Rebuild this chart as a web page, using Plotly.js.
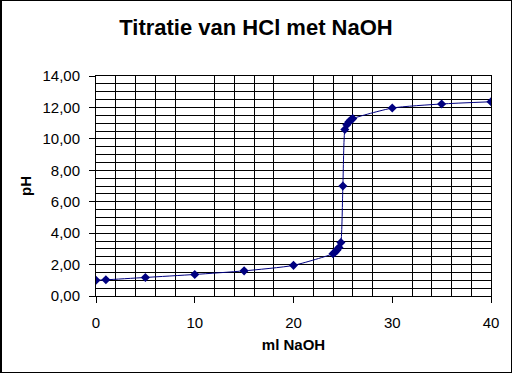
<!DOCTYPE html>
<html>
<head>
<meta charset="utf-8">
<script src="https://cdn.plot.ly/plotly-3.0.1.min.js"></script>
<style>
  html, body { margin: 0; padding: 0; background: #ffffff; }
  #wrap { position: relative; width: 512px; height: 373px; }
  #chart { position: absolute; left: 0; top: 0; width: 512px; height: 373px; }
  #frame { position: absolute; left: 0; top: 0; width: 512px; height: 373px; box-sizing: border-box;
           border: 1px solid #000; border-left-width: 2px; pointer-events: none; }
</style>
</head>
<body>
<div id="wrap">
  <div id="chart"></div>
  <div id="frame"></div>
</div>
<script>
// ml NaOH added
var mlNaOH = [0, 1, 5, 10, 15, 20, 24, 24.2, 24.4, 24.6, 24.8, 25, 25.2, 25.4, 25.6, 25.8, 26, 30, 35, 40];
// measured pH
var pH = [1.00, 1.03, 1.18, 1.37, 1.60, 1.95, 2.69, 2.79, 2.92, 3.09, 3.40, 7.00, 10.60, 10.90, 11.07, 11.20, 11.29, 11.96, 12.22, 12.36];

var chartTitle = 'Titratie van HCl met NaOH';
var xTitle = 'ml NaOH';
var yTitle = 'pH';

var fontFam = '"Liberation Sans", Arial, sans-serif';

var trace = {
  x: mlNaOH,
  y: pH,
  type: 'scatter',
  mode: 'lines+markers',
  line: { color: '#000080', width: 1, shape: 'spline', smoothing: 0.6 },
  marker: { symbol: 'diamond', size: 7, color: '#000080' },
  hoverinfo: 'x+y'
};

var layout = {
  width: 512,
  height: 373,
  margin: { l: 96, r: 21, t: 76, b: 77, pad: 0 },
  paper_bgcolor: '#ffffff',
  plot_bgcolor: '#ffffff',
  separators: ',.',
  showlegend: false,
  font: { family: fontFam, color: '#000000', size: 15 },
  title: {
    text: '<b>' + chartTitle + '</b>',
    font: { family: fontFam, size: 22, color: '#000000' },
    xref: 'container', x: 0.5, xanchor: 'center',
    yref: 'container', y: 1 - 27 / 373, yanchor: 'middle'
  },
  xaxis: {
    range: [0, 40],
    tick0: 0, dtick: 10,
    ticks: 'outside', ticklen: 6, tickwidth: 1, tickcolor: '#000',
    ticklabelstandoff: 7,
    showgrid: false,
    minor: { dtick: 2, showgrid: true, gridcolor: '#000', gridwidth: 1, ticks: '' },
    showline: true, linecolor: '#000', linewidth: 1, mirror: true,
    zeroline: false,
    tickfont: { family: fontFam, size: 15, color: '#000' },
    title: { text: '<b>' + xTitle + '</b>', font: { family: fontFam, size: 15, color: '#000' }, standoff: 9 },
    fixedrange: true
  },
  yaxis: {
    range: [0, 14],
    tick0: 0, dtick: 2,
    tickformat: '.2f',
    ticks: 'outside', ticklen: 6, tickwidth: 1, tickcolor: '#000',
    ticklabelstandoff: 6,
    showgrid: true, gridcolor: '#000', gridwidth: 1,
    minor: { dtick: 0.5, showgrid: true, gridcolor: '#000', gridwidth: 1, ticks: '' },
    showline: true, linecolor: '#000', linewidth: 1, mirror: true,
    zeroline: false,
    tickfont: { family: fontFam, size: 15, color: '#000' },
    title: { text: '<b>' + yTitle + '</b>', font: { family: fontFam, size: 15, color: '#000' }, standoff: 7 },
    fixedrange: true
  }
};

Plotly.newPlot('chart', [trace], layout, { displayModeBar: false, staticPlot: true });
</script>
</body>
</html>
